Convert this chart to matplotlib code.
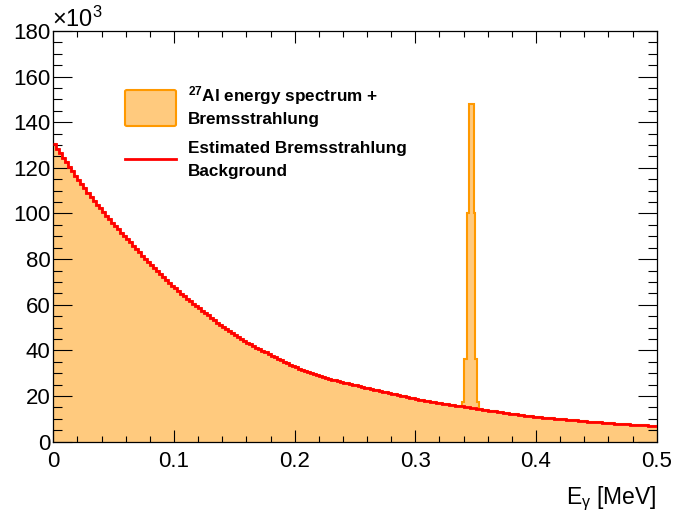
import numpy as np
import matplotlib.pyplot as plt
from matplotlib.patches import FancyBboxPatch
from matplotlib.lines import Line2D
from matplotlib.ticker import MultipleLocator

plt.rcParams['font.family'] = ['Liberation Sans', 'DejaVu Sans']
plt.rcParams['mathtext.fontset'] = 'custom'
plt.rcParams['mathtext.rm'] = 'Liberation Sans'
plt.rcParams['mathtext.it'] = 'Liberation Sans:italic'
plt.rcParams['mathtext.bf'] = 'Liberation Sans:bold'

# estimated bremsstrahlung background, counts / 10^3 in 0.0025 MeV bins from 0 to 0.5 MeV
bg_counts = [
    130.4, 128.4, 126.5, 124.5, 122.5, 120.5, 118.5, 116.5, 114.6, 112.8,
    111.0, 109.1, 107.3, 105.6, 103.9, 102.2, 100.5, 99.0, 97.5, 96.0,
    94.5, 93.1, 91.6, 90.2, 88.8, 87.3, 85.8, 84.3, 82.9, 81.5,
    80.1, 78.7, 77.3, 76.0, 74.7, 73.4, 72.1, 70.9, 69.6, 68.4,
    67.2, 66.1, 64.9, 63.8, 62.7, 61.6, 60.5, 59.4, 58.4, 57.4,
    56.3, 55.3, 54.3, 53.3, 52.2, 51.2, 50.2, 49.3, 48.4, 47.5,
    46.6, 45.8, 45.0, 44.2, 43.4, 42.7, 41.9, 41.2, 40.5, 39.8,
    39.1, 38.4, 37.7, 37.0, 36.3, 35.6, 35.0, 34.4, 33.7, 33.1,
    32.5, 32.0, 31.5, 31.0, 30.6, 30.1, 29.7, 29.2, 28.8, 28.4,
    28.0, 27.6, 27.2, 26.9, 26.5, 26.2, 25.8, 25.5, 25.2, 24.9,
    24.6, 24.3, 24.0, 23.7, 23.4, 23.1, 22.8, 22.5, 22.2, 21.9,
    21.6, 21.3, 21.0, 20.7, 20.4, 20.1, 19.8, 19.5, 19.2, 18.9,
    18.7, 18.4, 18.2, 17.9, 17.7, 17.5, 17.2, 17.0, 16.8, 16.6,
    16.4, 16.2, 16.0, 15.8, 15.6, 15.4, 15.2, 15.0, 14.8, 14.6,
    14.4, 14.2, 14.0, 13.8, 13.6, 13.4, 13.2, 13.0, 12.8, 12.6,
    12.5, 12.3, 12.1, 11.9, 11.8, 11.6, 11.4, 11.3, 11.1, 11.0,
    10.8, 10.7, 10.5, 10.4, 10.3, 10.2, 10.1, 10.0, 9.8, 9.7,
    9.6, 9.5, 9.4, 9.3, 9.2, 9.1, 8.9, 8.8, 8.7, 8.6,
    8.5, 8.4, 8.3, 8.2, 8.1, 8.0, 7.9, 7.8, 7.7, 7.6,
    7.5, 7.4, 7.4, 7.3, 7.2, 7.1, 7.1, 7.0, 7.0, 6.9,
]
bg_edges = np.linspace(0.0, 0.5, len(bg_counts) + 1)

# 27Al line on top of the continuum (total counts / 10^3)
peak_edges = [0.3387, 0.3403, 0.3428, 0.3445, 0.3486, 0.3494, 0.3511, 0.3528]
peak_counts = [17.5, 36.0, 100.0, 148.0, 100.0, 36.0, 17.5]

# merge the two binnings into one spectrum histogram
bg_counts = np.array(bg_counts)
all_edges = np.unique(np.concatenate([bg_edges, peak_edges]))
mids = 0.5 * (all_edges[:-1] + all_edges[1:])
spec = bg_counts[np.clip(np.searchsorted(bg_edges, mids) - 1, 0, len(bg_counts) - 1)]
pk = np.searchsorted(peak_edges, mids) - 1
inside = (pk >= 0) & (pk < len(peak_counts))
spec[inside] = np.maximum(spec[inside], np.array(peak_counts)[pk[inside]])

W, H = 675, 513
fig = plt.figure(figsize=(W / 100, H / 100), dpi=100)
x0, x1, y0, y1 = 53.3, 656.7, 31.0, 441.6
ax = fig.add_axes([x0 / W, 1 - y1 / H, (x1 - x0) / W, (y1 - y0) / H])

fill_col = '#ffca7e'
line_col = '#ff9900'
ax.stairs(spec, all_edges, fill=True, color=fill_col, zorder=1)
ax.stairs(spec, all_edges, baseline=None, color=line_col, lw=1.5, zorder=2)
ax.stairs(bg_counts, bg_edges, baseline=None, color='#ff0000', lw=2.0, zorder=3)

ax.set_xlim(0, 0.5)
ax.set_ylim(0, 180)
ax.xaxis.set_minor_locator(MultipleLocator(0.02))
ax.yaxis.set_major_locator(MultipleLocator(20))
ax.yaxis.set_minor_locator(MultipleLocator(5))
ax.set_xticks([0, 0.1, 0.2, 0.3, 0.4, 0.5])
ax.set_xticklabels(['0', '0.1', '0.2', '0.3', '0.4', '0.5'])

ax.tick_params(which='both', direction='in', top=True, right=True,
               width=0.8, colors='black', labelsize=16)
ax.tick_params(axis='x', which='major', length=8.6, pad=7)
ax.tick_params(axis='x', which='minor', length=4.3)
ax.tick_params(axis='y', which='major', length=13.7, pad=2)
ax.tick_params(axis='y', which='minor', length=6.8)
for s in ax.spines.values():
    s.set_linewidth(0.9)


def fx(px):
    return px / W


def fy(py):
    return 1 - py / H


fig.text(fx(52), fy(27), r'$\mathregular{\times10^{3}}$', fontsize=17,
         ha='left', va='baseline')
fig.text(fx(x1), fy(504), r'E$_{\mathregular{γ}}$ [MeV]', fontsize=16.5,
         ha='right', va='baseline')

# legend
box = FancyBboxPatch((fx(125), fy(126)), fx(176) - fx(125), fy(90) - fy(126),
                     boxstyle='round,pad=0,rounding_size=0.003',
                     transform=fig.transFigure, facecolor=fill_col,
                     edgecolor=line_col, lw=1.5)
fig.add_artist(box)
fig.add_artist(Line2D([fx(125), fx(176)], [fy(159), fy(159)],
                      transform=fig.transFigure, color='#ff0000', lw=2.0))
legend_lines = [
    (101.5, r'$\mathbf{^{27}}$Al energy spectrum +'),
    (124, 'Bremsstrahlung'),
    (153, 'Estimated Bremsstrahlung'),
    (176, 'Background'),
]
for ypx, txt in legend_lines:
    fig.text(fx(188), fy(ypx), txt, fontsize=12.3, fontweight='bold',
             ha='left', va='baseline')

fig.savefig('out.png', dpi=100)
